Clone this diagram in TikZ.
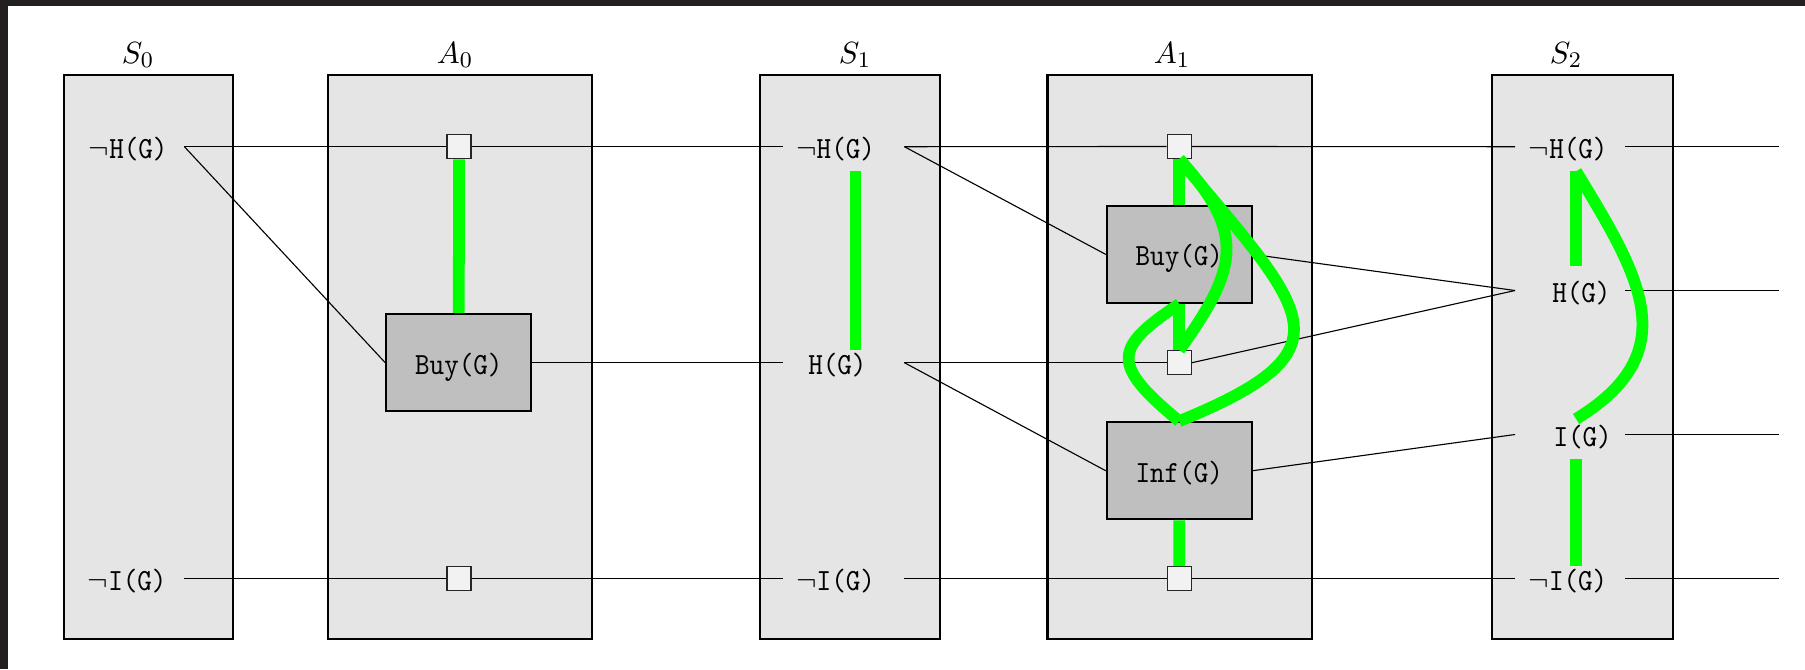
\documentclass[tikz,border=0pt]{standalone}
\usepackage{fontspec}
\newfontfamily\ttc{lmmono10-regular}[Extension=.otf,FakeStretch=0.9]
\usetikzlibrary{calc}
\newdimen\pxu \pxu=0.3571pt
\newcommand\mylab[3]{\makebox[#1\pxu][l]{\hspace*{#2\pxu}#3}}
\definecolor{darkband}{RGB}{35,31,32}
\pgfdeclarelayer{panels}\pgfdeclarelayer{conns}\pgfsetlayers{panels,conns,main}
\begin{document}
\begin{tikzpicture}[x=0.3571pt,y=-0.3571pt,
  panel/.style={draw=black,line width=0.75pt,fill=black!10,inner sep=0,anchor=north west},
  act/.style={draw=black,line width=0.75pt,fill=black!25,inner sep=0,minimum width=145\pxu,minimum height=97\pxu,text height=23\pxu,text depth=0pt,font=\fontsize{11}{13}\selectfont\ttc},
  sqr/.style={draw=black!85,line width=0.45pt,fill=black!5,inner sep=0,minimum size=24\pxu},
  lbl/.style={inner sep=0,anchor=west,text height=36\pxu,text depth=12\pxu,font=\fontsize{11}{13}\selectfont\ttc},
  ttl/.style={anchor=base,inner sep=0,font=\fontsize{11}{13}\selectfont},
  conn/.style={draw=black,line width=0.4pt},
  mutex/.style={draw=green,line width=4.2pt}]
\useasboundingbox (0,0) rectangle (1805,669);
\fill[darkband] (0,0) rectangle (1805,6);
\fill[darkband] (0,0) rectangle (8,669);
% panels
\begin{pgfonlayer}{panels}
\node[panel,minimum width=169\pxu,minimum height=563.7\pxu] (S0) at (62.7,74.3) {};
\node[panel,minimum width=263.6\pxu,minimum height=563.7\pxu] (A0) at (327,74.3) {};
\node[panel,minimum width=180\pxu,minimum height=563.7\pxu] (S1) at (759,74.3) {};
\node[panel,minimum width=264.6\pxu,minimum height=563.7\pxu] (A1) at (1046.4,74.3) {};
\node[panel,minimum width=180.7\pxu,minimum height=563.7\pxu] (S2) at (1491,74.3) {};
\end{pgfonlayer}
% titles
\node[ttl] (tS0) at (138,63) {$S_0$};
\node[ttl] (tA0) at (455,63) {$A_0$};
\node[ttl] (tS1) at (855,63) {$S_1$};
\node[ttl] (tA1) at (1172,63) {$A_1$};
\node[ttl] (tS2) at (1566,63) {$S_2$};
% proposition labels
\node[lbl] (s0nh) at (75,146.7) {\mylab{108.3}{13.3}{$\neg$H(G)}};
\node[lbl] (s0ni) at (75,578.7) {\mylab{108}{12.3}{$\neg$I(G)}};
\node[lbl] (s1nh) at (782.7,146.7) {\mylab{120.6}{13}{$\neg$H(G)}};
\node[lbl] (s1h) at (782.7,362.7) {\mylab{120.6}{25}{H(G)}};
\node[lbl] (s1ni) at (782.7,578.7) {\mylab{120.6}{13}{$\neg$I(G)}};
\node[lbl] (s2nh) at (1515,146.7) {\mylab{109}{13.3}{$\neg$H(G)}};
\node[lbl] (s2h) at (1515,290.5) {\mylab{109}{36.7}{H(G)}};
\node[lbl] (s2i) at (1515,434.5) {\mylab{109}{38}{I(G)}};
\node[lbl] (s2ni) at (1515,578.7) {\mylab{109}{13}{$\neg$I(G)}};
% actions
\node[act] (a0buy) at (458.8,362.7) {Buy(G)};
\node[act] (a1buy) at (1179.3,254.4) {Buy(G)};
\node[act] (a1inf) at (1179.2,470.7) {Inf(G)};
% persistence squares
\node[sqr] (a0s1) at (459,146.7) {};
\node[sqr] (a0s2) at (459,578.7) {};
\node[sqr] (a1s1) at (1179.3,146.5) {};
\node[sqr] (a1s2) at (1179.3,362.7) {};
\node[sqr] (a1s3) at (1179.3,578.7) {};
% free ends
\coordinate (o1) at (1779,146.7);
\coordinate (o2) at (1779,290.5);
\coordinate (o3) at (1779,434.5);
\coordinate (o4) at (1779,578.7);
% connectors
\begin{pgfonlayer}{conns}
\draw[conn] (s0nh.east) -- (a0s1.west);
\draw[conn] (a0s1.east) -- (s1nh.west);
\draw[conn] (s0nh.east) -- (a0buy.west);
\draw[conn] (a0buy.east) -- (s1h.west);
\draw[conn] (s0ni.east) -- (a0s2.west);
\draw[conn] (a0s2.east) -- (s1ni.west);
\draw[conn] (s1nh.east) -- (a1s1.west);
\draw[conn] (a1s1.east) -- (s2nh.west);
\draw[conn] (s1nh.east) -- (a1buy.west);
\draw[conn] (s1h.east) -- (a1s2.west);
\draw[conn] (a1s2.east) -- (s2h.west);
\draw[conn] (s1h.east) -- (a1inf.west);
\draw[conn] (a1buy.east) -- (s2h.west);
\draw[conn] (a1inf.east) -- (s2i.west);
\draw[conn] (s1ni.east) -- (a1s3.west);
\draw[conn] (a1s3.east) -- (s2ni.west);
\draw[conn] (s2nh.east) -- (o1);
\draw[conn] (s2h.east) -- (o2);
\draw[conn] (s2i.east) -- (o3);
\draw[conn] (s2ni.east) -- (o4);
\end{pgfonlayer}
% mutex links
\draw[mutex] (a0s1.south) -- (a0buy.north);
\draw[mutex] ([xshift=12\pxu]s1nh.south) -- ([xshift=12\pxu,yshift=-12\pxu]s1h.north);
\draw[mutex] (a1s1.south) -- (a1buy.north);
\draw[mutex] (a1buy.south) -- (a1s2.north);
\draw[mutex] (a1inf.south) -- (a1s3.north);
\draw[mutex] (a1s1.south) .. controls +(67,74) and +(59,-82) .. (a1s2.north);
\draw[mutex] (a1s1.south) .. controls +(128,154) and +(176,-72) .. (a1inf.north);
\draw[mutex] (a1buy.south) .. controls +(-66,44) and +(-69,-57) .. (a1inf.north);
\draw[mutex] ([xshift=6\pxu]s2nh.south) -- ([xshift=6\pxu]s2h.north);
\draw[mutex] ([xshift=6\pxu]s2i.south) -- ([xshift=6\pxu,yshift=-12\pxu]s2ni.north);
\draw[mutex] ([xshift=6\pxu]s2nh.south) .. controls +(64,105) and +(110,-67) .. ([xshift=6\pxu,yshift=-9\pxu]s2i.north);
\end{tikzpicture}
\end{document}
